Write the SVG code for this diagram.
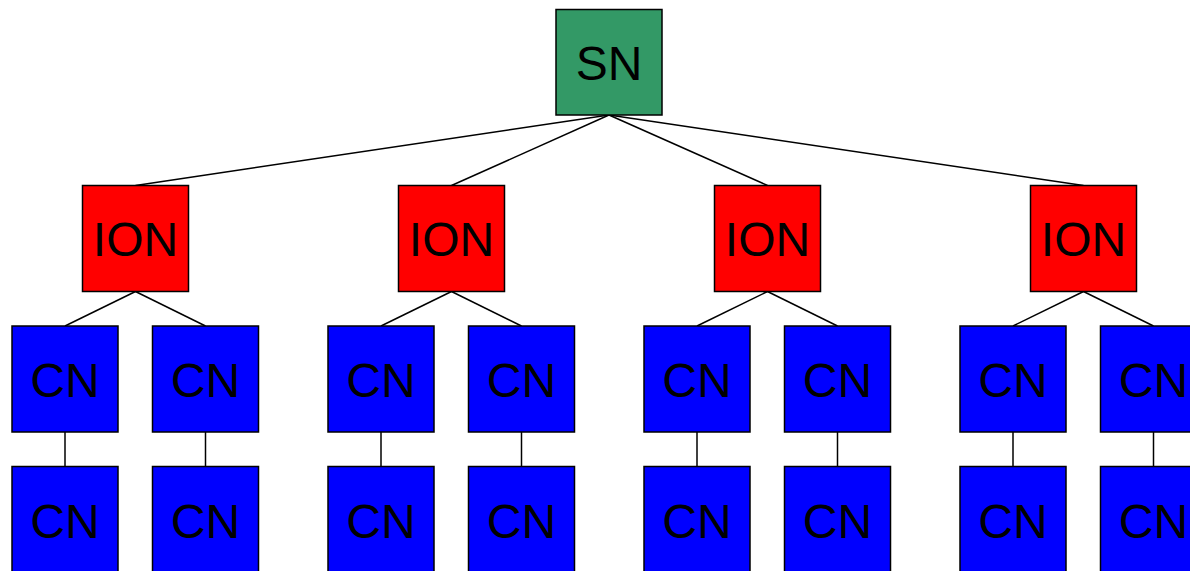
<svg xmlns="http://www.w3.org/2000/svg" width="1190" height="571" viewBox="0 0 1190 571">
  <style>
    .box { stroke: #000; stroke-width: 1.5; }
    .sn { fill: #339966; }
    .ion { fill: #ff0000; }
    .cn { fill: #0000ff; }
    .lbl { font-family: "Liberation Sans", Arial, sans-serif; font-size: 48px; fill: #000; text-anchor: middle; }
    .link { stroke: #000; stroke-width: 1.5; fill: none; }
  </style>
  <rect width="1190" height="571" fill="#fff"/>

  <!-- connectors -->
  <g id="connectors" class="link">
    <line x1="609" y1="115" x2="135.5" y2="185.5"/>
    <line x1="609" y1="115" x2="451.5" y2="185.5"/>
    <line x1="609" y1="115" x2="767.5" y2="185.5"/>
    <line x1="609" y1="115" x2="1083.5" y2="185.5"/>

    <line x1="135.5" y1="291.5" x2="65" y2="326"/>
    <line x1="135.5" y1="291.5" x2="205.5" y2="326"/>
    <line x1="451.5" y1="291.5" x2="381" y2="326"/>
    <line x1="451.5" y1="291.5" x2="521.5" y2="326"/>
    <line x1="767.5" y1="291.5" x2="697" y2="326"/>
    <line x1="767.5" y1="291.5" x2="837.5" y2="326"/>
    <line x1="1083.5" y1="291.5" x2="1013" y2="326"/>
    <line x1="1083.5" y1="291.5" x2="1153.5" y2="326"/>

    <line x1="65" y1="432" x2="65" y2="466.5"/>
    <line x1="205.5" y1="432" x2="205.5" y2="466.5"/>
    <line x1="381" y1="432" x2="381" y2="466.5"/>
    <line x1="521.5" y1="432" x2="521.5" y2="466.5"/>
    <line x1="697" y1="432" x2="697" y2="466.5"/>
    <line x1="837.5" y1="432" x2="837.5" y2="466.5"/>
    <line x1="1013" y1="432" x2="1013" y2="466.5"/>
    <line x1="1153.5" y1="432" x2="1153.5" y2="466.5"/>
  </g>

  <!-- service node -->
  <g id="sn">
    <rect class="box sn" x="556" y="9.5" width="106" height="105.5"/>
    <text class="lbl" x="609" y="80">SN</text>
  </g>

  <!-- I/O nodes -->
  <g id="ion1"><rect class="box ion" x="82.5" y="185.5" width="106" height="106"/><text class="lbl" x="135.5" y="256">ION</text></g>
  <g id="ion2"><rect class="box ion" x="398.5" y="185.5" width="106" height="106"/><text class="lbl" x="451.5" y="256">ION</text></g>
  <g id="ion3"><rect class="box ion" x="714.5" y="185.5" width="106" height="106"/><text class="lbl" x="767.5" y="256">ION</text></g>
  <g id="ion4"><rect class="box ion" x="1030.5" y="185.5" width="106" height="106"/><text class="lbl" x="1083.5" y="256">ION</text></g>

  <!-- compute nodes, upper row -->
  <g id="cn1a"><rect class="box cn" x="12" y="326" width="106" height="106"/><text class="lbl" x="65" y="397">CN</text></g>
  <g id="cn2a"><rect class="box cn" x="152.5" y="326" width="106" height="106"/><text class="lbl" x="205.5" y="397">CN</text></g>
  <g id="cn3a"><rect class="box cn" x="328" y="326" width="106" height="106"/><text class="lbl" x="381" y="397">CN</text></g>
  <g id="cn4a"><rect class="box cn" x="468.5" y="326" width="106" height="106"/><text class="lbl" x="521.5" y="397">CN</text></g>
  <g id="cn5a"><rect class="box cn" x="644" y="326" width="106" height="106"/><text class="lbl" x="697" y="397">CN</text></g>
  <g id="cn6a"><rect class="box cn" x="784.5" y="326" width="106" height="106"/><text class="lbl" x="837.5" y="397">CN</text></g>
  <g id="cn7a"><rect class="box cn" x="960" y="326" width="106" height="106"/><text class="lbl" x="1013" y="397">CN</text></g>
  <g id="cn8a"><rect class="box cn" x="1100.5" y="326" width="106" height="106"/><text class="lbl" x="1153.5" y="397">CN</text></g>

  <!-- compute nodes, lower row -->
  <g id="cn1b"><rect class="box cn" x="12" y="466.5" width="106" height="106"/><text class="lbl" x="65" y="537.5">CN</text></g>
  <g id="cn2b"><rect class="box cn" x="152.5" y="466.5" width="106" height="106"/><text class="lbl" x="205.5" y="537.5">CN</text></g>
  <g id="cn3b"><rect class="box cn" x="328" y="466.5" width="106" height="106"/><text class="lbl" x="381" y="537.5">CN</text></g>
  <g id="cn4b"><rect class="box cn" x="468.5" y="466.5" width="106" height="106"/><text class="lbl" x="521.5" y="537.5">CN</text></g>
  <g id="cn5b"><rect class="box cn" x="644" y="466.5" width="106" height="106"/><text class="lbl" x="697" y="537.5">CN</text></g>
  <g id="cn6b"><rect class="box cn" x="784.5" y="466.5" width="106" height="106"/><text class="lbl" x="837.5" y="537.5">CN</text></g>
  <g id="cn7b"><rect class="box cn" x="960" y="466.5" width="106" height="106"/><text class="lbl" x="1013" y="537.5">CN</text></g>
  <g id="cn8b"><rect class="box cn" x="1100.5" y="466.5" width="106" height="106"/><text class="lbl" x="1153.5" y="537.5">CN</text></g>
</svg>
